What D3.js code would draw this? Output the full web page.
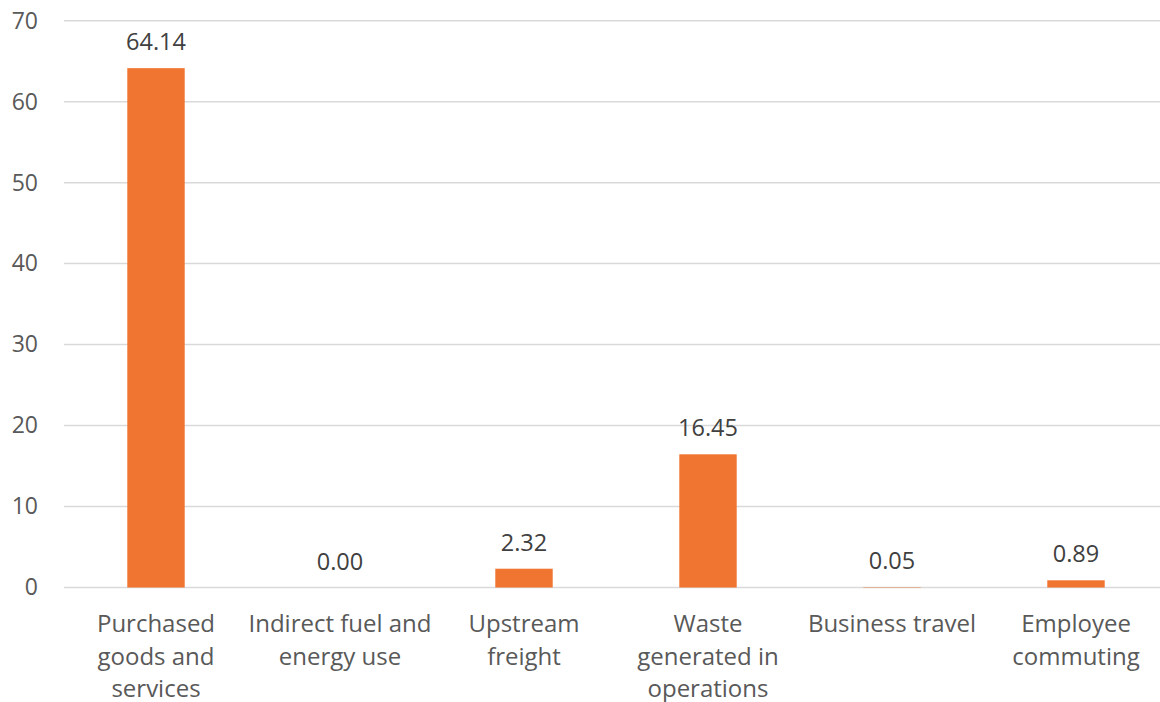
<!DOCTYPE html>
<html>
<head>
<meta charset="utf-8">
<script src="https://cdn.jsdelivr.net/npm/d3@7"></script>
<style>
  html, body { margin: 0; padding: 0; background: #fff; }
  svg { display: block; font-family: "Open Sans", sans-serif; }
</style>
</head>
<body>
<svg id="chart" width="1160" height="702"></svg>
<script>
const categories = [
  "Purchased\ngoods and\nservices",
  "Indirect fuel and\nenergy use",
  "Upstream\nfreight",
  "Waste\ngenerated in\noperations",
  "Business travel",
  "Employee\ncommuting"
];
const values = [64.14, 0.00, 2.32, 16.45, 0.05, 0.89];
const yTicks = [0, 10, 20, 30, 40, 50, 60, 70];

(function () {
const svg = d3.select("#chart");
const mLeft = 64, mRight = 1168, mTop = 20.7, mBottom = 587.5;

const x = d3.scaleBand()
  .domain(categories)
  .range([mLeft, mRight])
  .paddingInner(0.688)
  .paddingOuter(0.344);

const y = d3.scaleLinear().domain([0, 70]).range([mBottom, mTop]);

// gridlines
svg.append("g")
  .selectAll("line")
  .data(yTicks)
  .join("line")
  .attr("x1", mLeft).attr("x2", 1160)
  .attr("y1", d => y(d)).attr("y2", d => y(d))
  .attr("stroke", "#d9d9d9")
  .attr("stroke-width", 1.5);

// y axis labels
const yAxis = d3.axisLeft(y).tickValues(yTicks).tickSize(0).tickPadding(0).tickFormat(d3.format("d"));
svg.append("g")
  .attr("transform", "translate(38,0)")
  .call(yAxis)
  .call(g => g.select(".domain").remove())
  .call(g => g.selectAll("text")
    .attr("fill", "#595959")
    .attr("font-size", "23px")
    .attr("font-family", "'Open Sans', sans-serif"));

// bars
svg.append("g")
  .selectAll("rect")
  .data(values)
  .join("rect")
  .attr("x", (d, i) => x(categories[i]))
  .attr("width", x.bandwidth())
  .attr("y", d => y(d))
  .attr("height", d => y(0) - y(d))
  .attr("fill", "#f07530");

// value labels
svg.append("g")
  .selectAll("text")
  .data(values)
  .join("text")
  .attr("x", (d, i) => x(categories[i]) + x.bandwidth() / 2)
  .attr("y", d => y(d) - 18)
  .attr("text-anchor", "middle")
  .attr("fill", "#404040")
  .attr("font-size", "23.5px")
  .text(d => d.toFixed(2));

// category labels
const xAxis = svg.append("g");
categories.forEach((c, i) => {
  const t = xAxis.append("text")
    .attr("x", x(c) + x.bandwidth() / 2)
    .attr("y", 632)
    .attr("text-anchor", "middle")
    .attr("fill", "#595959")
    .attr("font-size", "24px");
  c.split("\n").forEach((line, j) => {
    t.append("tspan")
      .attr("x", x(c) + x.bandwidth() / 2)
      .attr("y", 632 + j * 32.5)
      .text(line);
  });
});
})();
</script>
</body>
</html>
